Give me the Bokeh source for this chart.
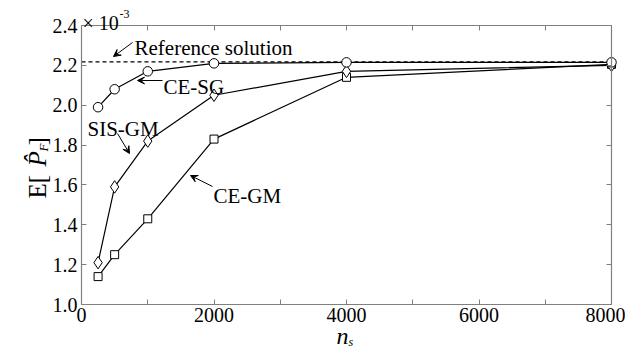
import math
from bokeh.plotting import figure
from bokeh.models import Range1d, LinearAxis, FixedTicker, Label, Arrow, VeeHead
from bokeh.embed import file_html
from bokeh.resources import INLINE

# ---- data (values in units of 1e-3) ----
ns = [250, 500, 1000, 2000, 4000, 8000]
ce_sg = [1.99, 2.08, 2.17, 2.21, 2.215, 2.215]
sis_gm = [1.21, 1.59, 1.82, 2.05, 2.17, 2.20]
ce_gm = [1.14, 1.25, 1.43, 1.83, 2.14, 2.205]
ref_value = 2.217
x_ticks = [0, 1000, 2000, 3000, 4000, 5000, 6000, 7000, 8000]
x_tick_labels = ["0", "", "2000", "", "4000", "", "6000", "", "8000"]
y_ticks = [1.0, 1.2, 1.4, 1.6, 1.8, 2.0, 2.2, 2.4]

W, H = 625, 347
# pixel box of the axes in the picture
L, R, T, B = 81, 611, 25, 304
XMIN, XMAX, YMIN, YMAX = 0, 8000, 1.0, 2.4

def X(px):
    return XMIN + (px - L) / (R - L) * (XMAX - XMIN)

def Y(py):
    return YMIN + (B - py) / (B - T) * (YMAX - YMIN)

FONT = "Liberation Serif"
AX = "#808080"

p = figure(width=W, height=H, output_backend="svg", toolbar_location=None,
           x_range=Range1d(X(0), X(W)), y_range=Range1d(Y(H), Y(0)),
           min_border=0, x_axis_location=None, y_axis_location=None)
p.grid.visible = False
p.outline_line_color = None
p.background_fill_color = "white"
p.border_fill_color = "white"

def make_axis(side, labels, loc):
    ax = LinearAxis(fixed_location=loc)
    if side in ("below", "above"):
        ax.ticker = FixedTicker(ticks=x_ticks)
        ax.bounds = (XMIN, XMAX)
        ov = {t: s for t, s in zip(x_ticks, x_tick_labels)}
    else:
        ax.ticker = FixedTicker(ticks=y_ticks)
        ax.bounds = (YMIN, YMAX)
        ov = {t: "%.1f" % t for t in y_ticks}
    if not labels:
        ov = {t: "" for t in ov}
    ax.major_label_overrides = ov
    ax.axis_line_color = AX
    ax.axis_line_width = 1.2
    ax.major_tick_line_color = AX
    ax.major_tick_in = 5
    ax.major_tick_out = 0
    ax.minor_tick_line_color = None
    ax.major_label_text_font = FONT
    ax.major_label_text_color = "black"
    ax.major_label_text_font_size = "20px"
    ax.major_label_standoff = 3 if side in ("below", "above") else 4
    p.add_layout(ax, side)

make_axis("below", True, YMIN)
make_axis("above", False, YMAX)
make_axis("left", True, XMIN)
make_axis("right", False, XMAX)

# reference line
p.line([XMIN, XMAX], [ref_value, ref_value], line_color="black", line_width=1.2,
       line_dash="4 3")

# series
p.line(ns, ce_gm, line_color="black", line_width=1.2)
p.line(ns, sis_gm, line_color="black", line_width=1.2)
p.line(ns, ce_sg, line_color="black", line_width=1.2)
p.scatter(ns, ce_gm, marker="square", size=8, fill_color="white", line_color="black", line_width=1)
p.scatter(ns, sis_gm, marker="diamond", size=12.5, fill_color="white", line_color="black", line_width=1)
p.scatter(ns, ce_sg, marker="circle", size=9.5, fill_color="white", line_color="black", line_width=1)

def lab(text, px, py, size="21px", style="normal", angle=0.0, align="left"):
    p.add_layout(Label(x=X(px), y=Y(py), text=text, text_font=FONT,
                       text_font_size=size, text_font_style=style,
                       text_color="black", angle=angle, text_align=align,
                       text_baseline="alphabetic"))

def arrow(x0, y0, x1, y1):
    p.add_layout(Arrow(x_start=X(x0), y_start=Y(y0), x_end=X(x1), y_end=Y(y1),
                       line_color="black", line_width=1,
                       end=VeeHead(size=7, fill_color="black", line_color="black",
                                   line_width=1)))

# annotations
lab("Reference solution", 134, 47)
arrow(132, 42, 113, 56)
lab("CE-SG", 163, 86)
arrow(162, 80, 137, 80)
lab("SIS-GM", 87, 128)
arrow(117, 133, 129, 153)
lab("CE-GM", 213, 195)
arrow(212, 186, 190, 175)

# multiplier
lab("\u00d7 10", 82, 22, size="20px")
lab("-3", 119, 13, size="12px")

# y axis label (rotated)
ang = math.pi / 2
lab("E[", 37, 198, size="25px", angle=ang)
lab("P\u0302", 37, 166, size="25px", style="italic", angle=ang)
lab("F", 43, 151, size="13px", style="italic", angle=ang)
lab("]", 37, 145, size="25px", angle=ang)

# x axis label
lab("n", 336, 335, size="24px", style="italic")
lab("s", 348, 341, size="12px", style="italic")

open("out.html", "w").write(file_html(p, INLINE))
